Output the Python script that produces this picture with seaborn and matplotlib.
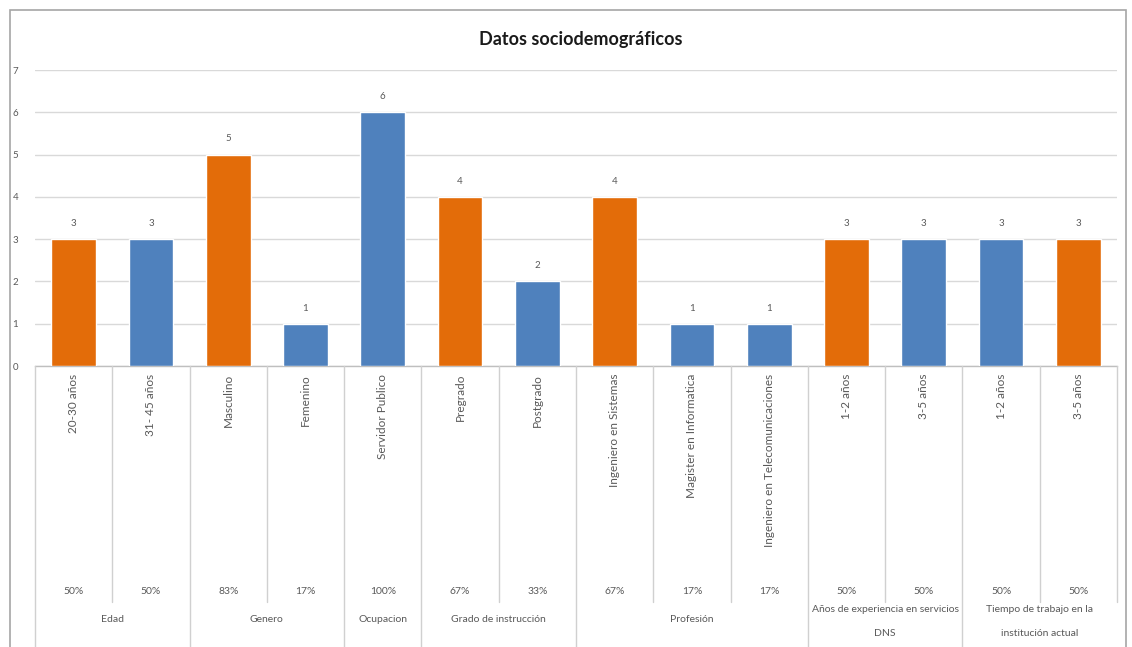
import matplotlib
matplotlib.use("Agg")
import matplotlib.pyplot as plt
import matplotlib.transforms as mtransforms
from matplotlib.patches import Rectangle
from matplotlib.lines import Line2D
import seaborn as sns
import pandas as pd

# Chart data
categories = ["20-30 años", "31- 45 años", "Masculino", "Femenino", "Servidor Publico",
              "Pregrado", "Postgrado", "Ingeniero en Sistemas", "Magister en Informatica",
              "Ingeniero en Telecomunicaciones", "1-2 años", "3-5 años", "1-2 años", "3-5 años"]
counts = [3, 3, 5, 1, 6, 4, 2, 4, 1, 1, 3, 3, 3, 3]
percentages = ["50%", "50%", "83%", "17%", "100%", "67%", "33%", "67%", "17%", "17%",
               "50%", "50%", "50%", "50%"]
group_names = ["Edad", "Genero", "Ocupacion", "Grado de instrucción", "Profesión",
               "Años de experiencia en servicios\nDNS", "Tiempo de trabajo en la\ninstitución actual"]
group_sizes = [2, 2, 1, 2, 3, 2, 2]
bar_colors = ["#E36C09", "#4F81BD", "#E36C09", "#4F81BD", "#4F81BD", "#E36C09", "#4F81BD",
              "#E36C09", "#4F81BD", "#4F81BD", "#E36C09", "#4F81BD", "#4F81BD", "#E36C09"]

W, H = 1132, 647
sns.set_theme(style="white")
plt.rcParams["font.family"] = ["Lato", "DejaVu Sans"]
TXT = "#595959"

fig = plt.figure(figsize=(W / 100, H / 100), dpi=100)
ax = fig.add_axes([35 / W, 1 - 366 / H, (1117 - 35) / W, (366 - 70) / H])

df = pd.DataFrame({"pos": [str(i) for i in range(len(counts))], "count": counts})
sns.barplot(data=df, x="pos", y="count", hue="pos", palette=bar_colors,
            legend=False, width=0.58, saturation=1, ax=ax, zorder=3)

ax.set_xlim(-0.5, len(counts) - 0.5)
ax.set_ylim(0, 7)
ax.set_yticks(range(0, 8))
ax.set_yticklabels([str(v) for v in range(0, 8)], fontsize=7, color=TXT)
ax.tick_params(axis="y", length=0, pad=12)
ax.set_xticks([])
ax.set_xlabel("")
ax.set_ylabel("")
ax.grid(axis="y", color="#D9D9D9", linewidth=1, zorder=0)
for side in ["left", "right", "top"]:
    ax.spines[side].set_visible(False)
ax.spines["bottom"].set_color("#BFBFBF")
ax.spines["bottom"].set_linewidth(1)

# value labels above bars
for i, v in enumerate(counts):
    ax.annotate(str(v), (i, v), xytext=(0, 8), textcoords="offset points",
                ha="center", va="bottom", fontsize=7, color=TXT)

# multi-level category table under the axis
tr = mtransforms.blended_transform_factory(ax.transData, fig.transFigure)

def fy(py):
    return 1 - py / H

for i, lab in enumerate(categories):
    ax.text(i, fy(374), lab, transform=tr, rotation=90, ha="center", va="top",
            fontsize=8.5, color=TXT)
    ax.text(i, fy(592), percentages[i], transform=tr, ha="center", va="center",
            fontsize=7.5, color=TXT)

line_kw = dict(color="#D0D0D0", linewidth=1, transform=tr, clip_on=False)
boundaries = set()
start = 0
for name, size in zip(group_names, group_sizes):
    end = start + size
    boundaries.add(start - 0.5)
    boundaries.add(end - 0.5)
    cx = (start + end - 1) / 2
    if "\n" in name:
        first, second = name.split("\n")
        ax.text(cx, fy(609), first, transform=tr, ha="center", va="center", fontsize=7.5, color=TXT)
        ax.text(cx, fy(634), second, transform=tr, ha="center", va="center", fontsize=7.5, color=TXT)
    else:
        ax.text(cx, fy(619), name, transform=tr, ha="center", va="center", fontsize=7.5, color=TXT)
    start = end

for b in range(len(counts) + 1):
    xb = b - 0.5
    bottom = 650 if xb in boundaries else 602
    if xb == len(counts) - 0.5:
        bottom = 602
    fig.add_artist(Line2D([xb, xb], [fy(366), fy(bottom)], **line_kw))

# title and outer frame
fig.text(581 / W, fy(40), "Datos sociodemográficos", ha="center", va="center",
         fontsize=13, fontweight="bold", color="#1A1A1A")
fig.add_artist(Rectangle((10 / W, fy(660)), (1126 - 10) / W, (660 - 10) / H,
                         transform=fig.transFigure, fill=False, edgecolor="#A6A6A6",
                         linewidth=1.2))

fig.savefig("out.png", dpi=100, facecolor="white")
